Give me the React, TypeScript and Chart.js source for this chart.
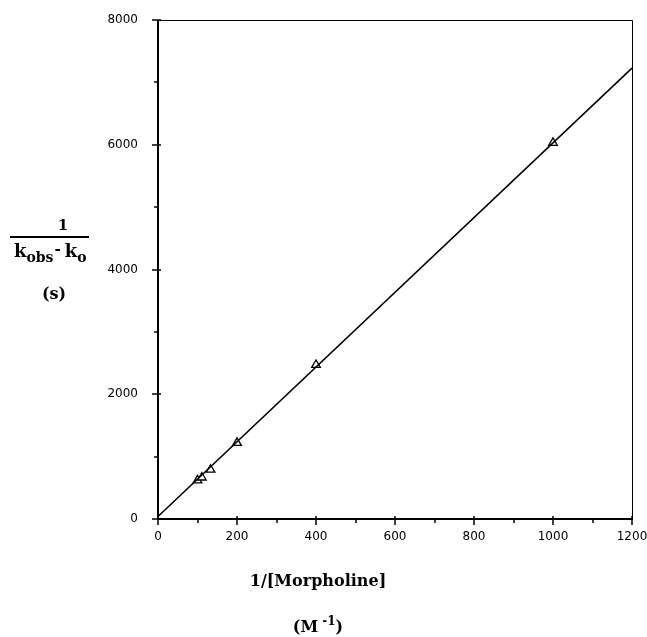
import React, { useEffect, useRef } from "react";
import { Chart, registerables } from "chart.js";

Chart.register(...registerables);

const invMorpholine = [100, 111, 133, 200, 400, 1000];
const invRate = [620, 665, 790, 1220, 2470, 6030];
const fitX = [0, 1200];
const fitY = [40, 7230];
const xTickLabels = [0, 200, 400, 600, 800, 1000, 1200];
const yTickLabels = [0, 2000, 4000, 6000, 8000];
const xMinorStep = 100;
const yMinorStep = 1000;

const axisPlugin = {
  id: "axisDecor",
  afterDraw(chart: any) {
    const { ctx, chartArea, scales } = chart;
    const { left, right, top, bottom } = chartArea;
    const xs = scales.x;
    const ys = scales.y;
    ctx.save();
    ctx.strokeStyle = "#000";
    ctx.lineWidth = 1;
    ctx.beginPath();
    ctx.moveTo(left, top + 0.5);
    ctx.lineTo(right + 0.5, top + 0.5);
    ctx.lineTo(right + 0.5, bottom);
    ctx.stroke();
    ctx.lineWidth = 2;
    ctx.beginPath();
    ctx.moveTo(left, top);
    ctx.lineTo(left, bottom);
    ctx.lineTo(right + 1, bottom);
    ctx.stroke();
    ctx.lineWidth = 1.5;
    for (let v = xs.min; v <= xs.max + 1e-6; v += xMinorStep) {
      const px = Math.round(xs.getPixelForValue(v));
      const major = xTickLabels.includes(v);
      ctx.beginPath();
      ctx.moveTo(px, bottom - (major ? 3 : 1));
      ctx.lineTo(px, bottom + (major ? 6 : 4));
      ctx.stroke();
    }
    for (let v = ys.min; v <= ys.max + 1e-6; v += yMinorStep) {
      const py = Math.round(ys.getPixelForValue(v));
      const major = yTickLabels.includes(v);
      ctx.beginPath();
      ctx.moveTo(left + (major ? 3 : 1), py);
      ctx.lineTo(left - (major ? 6 : 4), py);
      ctx.stroke();
    }
    ctx.fillStyle = "#000";
    ctx.font = "12px 'DejaVu Sans'";
    ctx.textAlign = "center";
    ctx.textBaseline = "middle";
    xTickLabels.forEach((v) => {
      ctx.fillText(String(v), xs.getPixelForValue(v), bottom + 18);
    });
    ctx.textAlign = "right";
    yTickLabels.forEach((v) => {
      ctx.fillText(String(v), left - 20, ys.getPixelForValue(v));
    });

    const serifB = (s: number) => `bold ${s}px 'DejaVu Serif'`;
    ctx.textAlign = "center";
    ctx.textBaseline = "alphabetic";
    ctx.font = serifB(15);
    ctx.fillText("1", 63, 230);
    ctx.lineWidth = 2;
    ctx.beginPath();
    ctx.moveTo(10, 237);
    ctx.lineTo(89, 237);
    ctx.stroke();
    ctx.textAlign = "left";
    let x = 14;
    const base = 257;
    ctx.font = serifB(18);
    ctx.fillText("k", x, base);
    x += ctx.measureText("k").width;
    ctx.font = serifB(14);
    ctx.fillText("obs", x, base + 5);
    x += ctx.measureText("obs").width + 1;
    ctx.font = serifB(15);
    ctx.fillText("-", x, base - 3);
    x += ctx.measureText("-").width + 4;
    ctx.font = serifB(18);
    ctx.fillText("k", x, base);
    x += ctx.measureText("k").width;
    ctx.font = serifB(14);
    ctx.fillText("o", x, base + 5);
    ctx.textAlign = "center";
    ctx.font = serifB(16);
    ctx.fillText("(s)", 54, 299);

    ctx.font = serifB(16);
    ctx.fillText("1/[Morpholine]", 318, 586);
    ctx.textAlign = "left";
    const m = "(M";
    const w1 = ctx.measureText(m).width;
    ctx.font = serifB(12);
    const w2 = ctx.measureText(" -1").width;
    ctx.font = serifB(16);
    const w3 = ctx.measureText(")").width;
    let sx = 318 - (w1 + w2 + w3) / 2;
    ctx.fillText(m, sx, 632);
    sx += w1;
    ctx.font = serifB(12);
    ctx.fillText(" -1", sx, 625);
    sx += w2;
    ctx.font = serifB(16);
    ctx.fillText(")", sx, 632);
    ctx.restore();
  },
};

export default function App() {
  const ref = useRef<HTMLCanvasElement>(null);
  useEffect(() => {
    if (!ref.current) return;
    const chart = new Chart(ref.current, {
      type: "scatter",
      data: {
        datasets: [
          {
            label: "fit",
            data: fitX.map((v, i) => ({ x: v, y: fitY[i] })),
            showLine: true,
            borderColor: "#000",
            borderWidth: 1.6,
            pointRadius: 0,
            fill: false,
          },
          {
            label: "data",
            data: invMorpholine.map((v, i) => ({ x: v, y: invRate[i] })),
            pointStyle: "triangle",
            pointRadius: 5,
            pointBorderColor: "#000",
            pointBackgroundColor: "#fff",
            pointBorderWidth: 1.3,
            showLine: false,
          },
        ],
      },
      options: {
        animation: false,
        responsive: true,
        maintainAspectRatio: false,
        layout: { padding: { top: 20, right: 15, left: 0, bottom: 0 } },
        plugins: { legend: { display: false }, tooltip: { enabled: false } },
        scales: {
          x: {
            type: "linear",
            min: 0,
            max: 1200,
            grid: { display: false },
            border: { display: false },
            ticks: { display: false },
            afterFit: (s: any) => {
              s.height = 118;
            },
          },
          y: {
            type: "linear",
            min: 0,
            max: 8000,
            grid: { display: false },
            border: { display: false },
            ticks: { display: false },
            afterFit: (s: any) => {
              s.width = 158;
            },
          },
        },
      },
      plugins: [axisPlugin],
    });
    return () => chart.destroy();
  }, []);
  return (
    <div style={{ position: "fixed", left: 0, top: 0, width: 647, height: 637, background: "#fff" }}>
      <canvas ref={ref} />
    </div>
  );
}
